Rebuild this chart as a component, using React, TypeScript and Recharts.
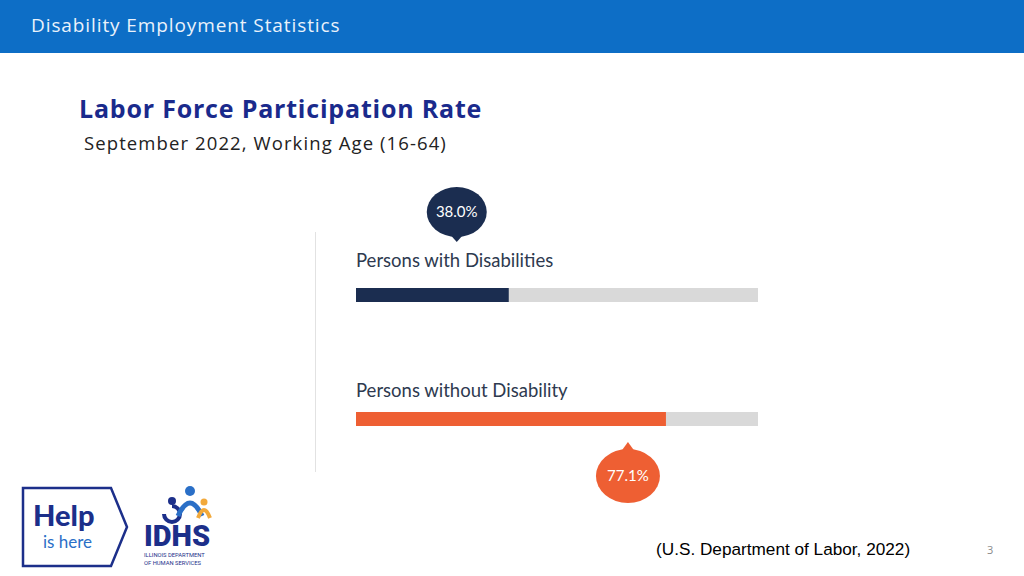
import { BarChart, Bar, XAxis, YAxis, LabelList, Cell } from 'recharts'

const groups = ['Persons with Disabilities', 'Persons without Disability']
const rates = [38.0, 77.1]
const barColors = ['#1B2D50', '#EE5F33']

const data = groups.map((name, i) => ({ name, value: rates[i] }))

const NameLabel = (props: any) => {
  const { x, y, index, value } = props
  const dy = index === 0 ? -21 : -15
  return (
    <text x={x} y={y + dy} fill="#2E3A4F" fontFamily="Lato, sans-serif" fontSize={18.5}>
      {groups[index] ?? value}
    </text>
  )
}

const Bubble = (props: any) => {
  const { x, y, width, height, index, value } = props
  const color = barColors[index]
  const above = index === 0
  const cx = x + width - (above ? 52 : 38)
  const tipY = above ? y - 46 : y + height + 16
  const cy = above ? tipY - 30 : tipY + 34
  const rx = above ? 30 : 32
  const ry = above ? 25 : 27
  const tri = above
    ? `${cx - 8},${cy + ry - 4} ${cx + 8},${cy + ry - 4} ${cx},${tipY}`
    : `${cx - 8},${cy - ry + 4} ${cx + 8},${cy - ry + 4} ${cx},${tipY}`
  return (
    <g>
      <ellipse cx={cx} cy={cy} rx={rx} ry={ry} fill={color} />
      <polygon points={tri} fill={color} />
      <text x={cx} y={cy + 5} textAnchor="middle" fill="#fff" fontFamily="Lato, sans-serif" fontSize={15}>
        {Number(value).toFixed(1)}%
      </text>
    </g>
  )
}

const HelpLogo = () => (
  <svg width={110} height={82} style={{ position: 'absolute', left: 21, top: 486 }}>
    <polygon points="2,2 90,2 106,41 90,80 2,80" fill="#fff" stroke="#1C2F8A" strokeWidth={2.5} />
    <text x={12} y={40} fill="#1C2F8A" fontFamily="Lato, sans-serif" fontWeight={900} fontSize={29}>Help</text>
    <text x={22} y={62} fill="#2A6FC7" fontFamily="Lato, sans-serif" fontSize={17}>is here</text>
  </svg>
)

const IdhsLogo = () => (
  <svg width={90} height={84} style={{ position: 'absolute', left: 142, top: 484 }}>
    <circle cx={30} cy={17} r={4} fill="#1C2F8A" />
    <path d="M22 30 a8 8 0 1 0 8 -8" fill="none" stroke="#1C2F8A" strokeWidth={4} />
    <circle cx={48} cy={7} r={5} fill="#2A6FC7" />
    <path d="M36 32 q12 -26 24 0" fill="none" stroke="#2A6FC7" strokeWidth={5} />
    <circle cx={62} cy={18} r={3.5} fill="#F2A93B" />
    <path d="M56 34 q6 -16 12 0" fill="none" stroke="#F2A93B" strokeWidth={4} />
    <text x={2} y={62} fill="#1C2F8A" fontFamily="Roboto, sans-serif" fontWeight={900} fontSize={29}>IDHS</text>
    <text x={2} y={73} fill="#1C2F8A" fontFamily="Roboto, sans-serif" fontSize={5.8}>ILLINOIS DEPARTMENT</text>
    <text x={2} y={81} fill="#1C2F8A" fontFamily="Roboto, sans-serif" fontSize={5.8}>OF HUMAN SERVICES</text>
  </svg>
)

export default function App() {
  return (
    <div style={{ position: 'absolute', left: 0, top: 0, width: 1024, height: 576, background: '#fff', overflow: 'hidden' }}>
      <div style={{ position: 'absolute', left: 0, top: 0, width: 1024, height: 53, background: '#0D6EC6' }} />
      <div style={{ position: 'absolute', left: 31, top: 11, color: '#EAF2FB', fontFamily: '"Open Sans", sans-serif', fontSize: 19, letterSpacing: 0.9, lineHeight: '28px' }}>
        Disability Employment Statistics
      </div>
      <div style={{ position: 'absolute', left: 79, top: 91, color: '#1A2A8C', fontFamily: '"Open Sans", sans-serif', fontWeight: 700, fontSize: 25, letterSpacing: 0.8, lineHeight: '34px' }}>
        Labor Force Participation Rate
      </div>
      <div style={{ position: 'absolute', left: 84, top: 130, color: '#222', fontFamily: '"Open Sans", sans-serif', fontSize: 18.5, letterSpacing: 1.1, lineHeight: '26px' }}>
        September 2022, Working Age (16-64)
      </div>
      <div style={{ position: 'absolute', left: 315, top: 232, width: 1, height: 240, background: '#E2E2E2' }} />

      <div style={{ position: 'absolute', left: 0, top: 0 }}>
        <BarChart
          width={1024}
          height={576}
          data={data}
          layout="vertical"
          margin={{ top: 233, right: 266, bottom: 95, left: 356 }}
        >
          <XAxis type="number" domain={[0, 100]} hide />
          <YAxis type="category" dataKey="name" hide />
          <Bar dataKey="value" barSize={14} background={{ fill: '#D9D9D9' }} isAnimationActive={false}>
            {data.map((d, i) => (
              <Cell key={d.name} fill={barColors[i]} />
            ))}
            <LabelList dataKey="name" content={<NameLabel />} />
            <LabelList dataKey="value" content={<Bubble />} />
          </Bar>
        </BarChart>
      </div>

      <HelpLogo />
      <IdhsLogo />
      <div style={{ position: 'absolute', left: 656, top: 537, color: '#000', fontFamily: '"Liberation Sans", sans-serif', fontSize: 17.2, lineHeight: '24px' }}>
        (U.S. Department of Labor, 2022)
      </div>
      <div style={{ position: 'absolute', left: 987, top: 542, color: '#8A8A8A', fontFamily: '"Open Sans", sans-serif', fontSize: 11, lineHeight: '16px' }}>
        3
      </div>
    </div>
  )
}
